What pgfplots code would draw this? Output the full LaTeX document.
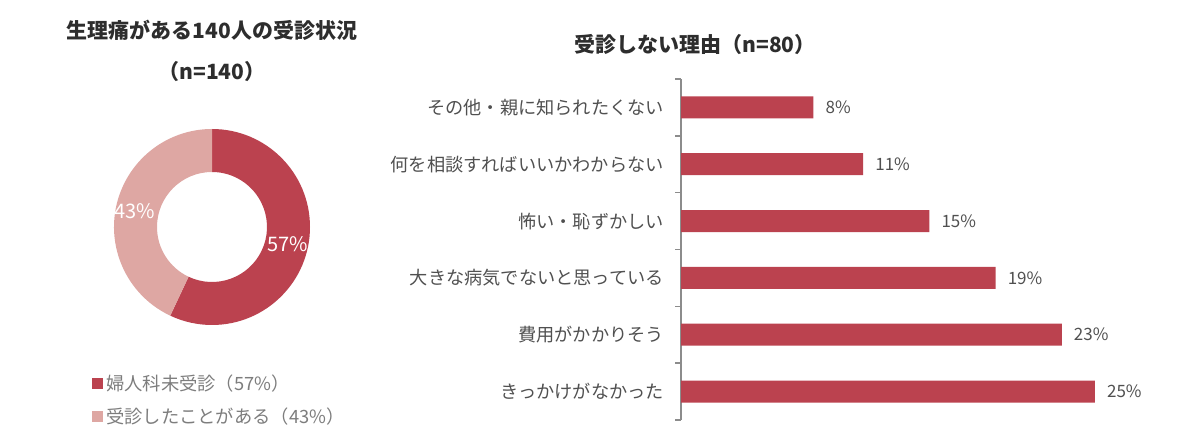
\documentclass[border=0pt]{standalone}
\usepackage{fontspec}
\setmainfont{Noto Sans CJK JP}
\usepackage{pgfplots}
\pgfplotsset{compat=1.18}
\usepackage{pgfplotstable}

\definecolor{barred}{RGB}{187,66,79}
\definecolor{pielight}{RGB}{222,167,163}
\definecolor{axisgray}{RGB}{140,140,140}
\definecolor{labelgray}{RGB}{80,80,80}
\definecolor{titlegray}{RGB}{45,45,45}
\definecolor{leggray}{RGB}{125,125,125}

% reasons for not seeing a doctor (n=80), bottom to top
\pgfplotstableread{
y value
0 25
1 23
2 19
3 15
4 11
5 8
}\reasons

% visit status (n=140)
\pgfplotstableread{
part value
0 57
1 43
}\visits

\begin{document}%
\pgfplotstablegetelem{0}{value}\of\visits\let\pA\pgfplotsretval%
\pgfmathsetmacro\angA{90-3.6*\pA}%
\begin{tikzpicture}
\useasboundingbox (0,0) rectangle (1200pt,446pt);

% titles
\node[font=\bfseries\fontsize{21}{25}\selectfont, text=titlegray] at (212pt,416pt) {生理痛がある140人の受診状況};
\node[font=\bfseries\fontsize{21}{25}\selectfont, text=titlegray] at (212pt,374pt) {（n=140）};
\node[font=\bfseries\fontsize{21}{25}\selectfont, text=titlegray] at (695pt,401pt) {受診しない理由（n=80）};

% donut
\begin{axis}[
    at={(114pt,121pt)}, anchor=south west,
    scale only axis, width=196pt, height=196pt,
    xmin=-1, xmax=1, ymin=-1, ymax=1,
    hide axis, clip=false,
    legend style={at={(-0.13,-0.232)}, anchor=north west, draw=none, fill=none,
        font=\fontsize{18.3}{21}\selectfont, text=leggray, row sep=12pt,
        /tikz/every odd column/.append style={column sep=2pt}},
    legend cell align=left,
]
\fill[barred] (axis cs:0,0) ++(90:98pt) arc[start angle=90, end angle=\angA, radius=98pt]
    -- ++(\angA:-43pt) arc[start angle=\angA, end angle=90, radius=55pt] -- cycle;
\fill[pielight] (axis cs:0,0) ++(\angA:98pt) arc[start angle=\angA, end angle=-270, radius=98pt]
    -- ++(-270:-43pt) arc[start angle=-270, end angle=\angA, radius=55pt] -- cycle;
\node[text=white, font=\fontsize{20}{23}\selectfont] at (axis cs:0.77,-0.18) {57\%};
\node[text=white, font=\fontsize{20}{23}\selectfont] at (axis cs:-0.79,0.16) {43\%};
\addlegendimage{legend image code/.code={\fill[barred] (0pt,-5pt) rectangle (10pt,5pt);}}
\addlegendentry{婦人科未受診（57\%）}
\addlegendimage{legend image code/.code={\fill[pielight] (0pt,-5pt) rectangle (10pt,5pt);}}
\addlegendentry{受診したことがある（43\%）}
\end{axis}

% bars
\begin{axis}[
    at={(681pt,26pt)}, anchor=south west,
    scale only axis, width=447pt, height=341pt,
    xbar, bar width=22pt,
    xmin=0, xmax=27, ymin=-0.5, ymax=5.5,
    axis x line=none, axis y line*=left,
    axis line style={axisgray, line width=1.5pt},
    ytick={0,...,5},
    yticklabels={きっかけがなかった,費用がかかりそう,大きな病気でないと思っている,怖い・恥ずかしい,何を相談すればいいかわからない,その他・親に知られたくない},
    yticklabel style={font=\fontsize{18.2}{21}\selectfont, text=labelgray, anchor=east, inner sep=0pt, xshift=-17pt},
    major tick length=0pt,
    minor ytick={-0.5,0.5,...,5.5},
    minor tick length=6pt, tick align=outside,
    minor tick style={axisgray, line width=1.5pt},
    /pgf/number format/assume math mode=true,
    nodes near coords={\pgfmathprintnumber{\pgfplotspointmeta}\%},
    nodes near coords style={anchor=west, inner sep=0pt, xshift=12pt, font=\fontsize{17}{20}\selectfont, text=labelgray},
    clip=false,
]
\addplot[fill=barred, draw=none] table[x=value, y=y] {\reasons};
\end{axis}
\end{tikzpicture}%
\end{document}
